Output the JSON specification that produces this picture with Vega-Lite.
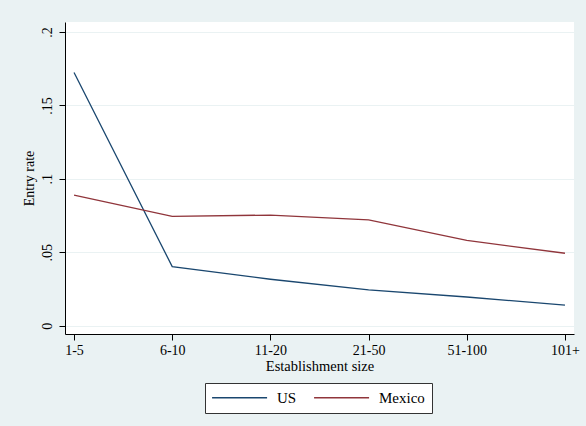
{
  "$schema": "https://vega.github.io/schema/vega-lite/v6.json",
  "autosize": {"type": "none"},
  "width": 509,
  "height": 312,
  "padding": {"left": 65, "top": 22, "right": 12, "bottom": 92},
  "background": "#eaf2f3",
  "config": {
    "font": "Liberation Serif",
    "view": {"fill": "white", "stroke": null}
  },
  "data": {
    "values": [
      {"size": "1-5", "country": "US", "rate": 0.1724},
      {"size": "6-10", "country": "US", "rate": 0.0402},
      {"size": "11-20", "country": "US", "rate": 0.0316},
      {"size": "21-50", "country": "US", "rate": 0.0243},
      {"size": "51-100", "country": "US", "rate": 0.0195},
      {"size": "101+", "country": "US", "rate": 0.014},
      {"size": "1-5", "country": "Mexico", "rate": 0.0889},
      {"size": "6-10", "country": "Mexico", "rate": 0.0744},
      {"size": "11-20", "country": "Mexico", "rate": 0.0753},
      {"size": "21-50", "country": "Mexico", "rate": 0.072},
      {"size": "51-100", "country": "Mexico", "rate": 0.058},
      {"size": "101+", "country": "Mexico", "rate": 0.0493}
    ]
  },
  "mark": {"type": "line", "strokeWidth": 1.3},
  "encoding": {
    "x": {
      "field": "size",
      "type": "ordinal",
      "sort": null,
      "scale": {"type": "point", "padding": 0.092},
      "axis": {
        "title": "Establishment size",
        "titleFont": "Liberation Serif",
        "titleFontSize": 14.5,
        "titleFontWeight": "normal",
        "titleColor": "#000",
        "titlePadding": 2,
        "labelFont": "Liberation Serif",
        "labelFontSize": 14,
        "labelColor": "#000",
        "labelAngle": 0,
        "labelPadding": 3,
        "domainColor": "#000",
        "tickColor": "#000",
        "tickSize": 6,
        "grid": false
      }
    },
    "y": {
      "field": "rate",
      "type": "quantitative",
      "scale": {"domain": [-0.0057, 0.2068], "nice": false, "zero": false},
      "axis": {
        "title": "Entry rate",
        "titleFont": "Liberation Serif",
        "titleFontSize": 14,
        "titleFontWeight": "normal",
        "titleColor": "#000",
        "titlePadding": 4,
        "values": [0, 0.05, 0.1, 0.15, 0.2],
        "labelExpr": "replace(format(datum.value, '.2~f'), '0.', '.')",
        "labelFont": "Liberation Serif",
        "labelFontSize": 14,
        "labelColor": "#000",
        "labelAngle": -90,
        "labelAlign": "center",
        "labelBaseline": "bottom",
        "labelPadding": 5,
        "domainColor": "#000",
        "tickColor": "#000",
        "tickSize": 6,
        "grid": true,
        "gridColor": "#eaf2f3",
        "gridWidth": 1.2
      }
    },
    "color": {
      "field": "country",
      "type": "nominal",
      "sort": ["US", "Mexico"],
      "scale": {"domain": ["US", "Mexico"], "range": ["#1a476f", "#90353b"]},
      "legend": {
        "title": null,
        "orient": "none",
        "legendX": 140,
        "legendY": 361,
        "direction": "horizontal",
        "fillColor": "white",
        "strokeColor": "#333",
        "padding": 7,
        "symbolType": "M-1.35,0H8.65",
        "symbolSize": 121,
        "symbolStrokeWidth": 1.3,
        "labelFont": "Liberation Serif",
        "labelFontSize": 15,
        "labelColor": "#000",
        "labelOffset": 50,
        "columnPadding": 14
      }
    }
  }
}
